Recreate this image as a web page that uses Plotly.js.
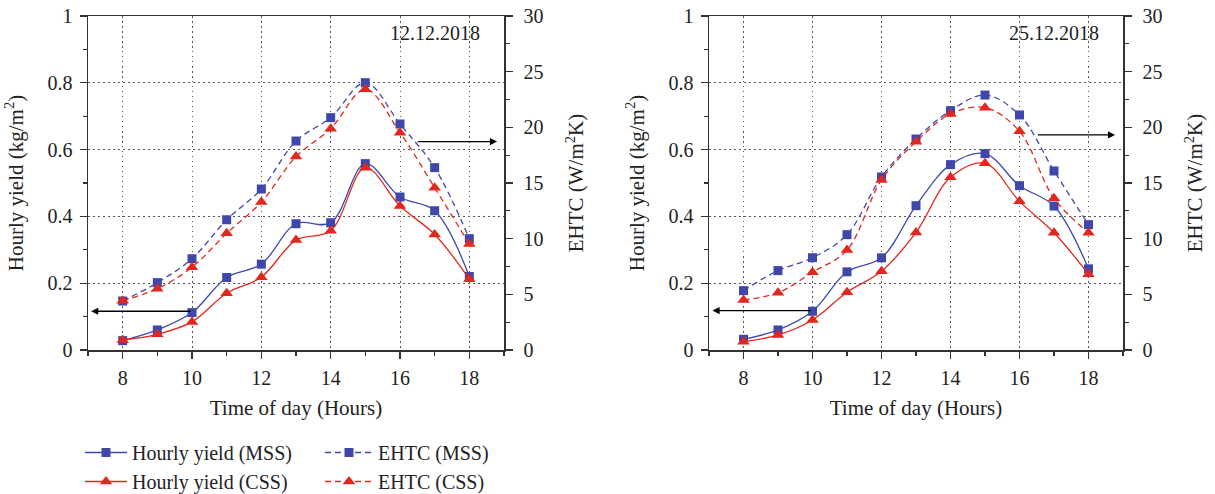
<!DOCTYPE html>
<html>
<head>
<meta charset="utf-8">
<script src="https://cdn.plot.ly/plotly-3.0.1.min.js"></script>
<style>html,body{margin:0;padding:0;background:#fff;overflow:hidden;}#chart{width:1215px;height:494px;}</style>
</head>
<body>
<div id="chart"></div>
<script>
// ---- data ----
const hours = [8, 9, 10, 11, 12, 13, 14, 15, 16, 17, 18];

// 12.12.2018
const yieldMSS_A = [0.028, 0.060, 0.112, 0.217, 0.257, 0.378, 0.381, 0.558, 0.458, 0.417, 0.220];
const yieldCSS_A = [0.030, 0.047, 0.084, 0.170, 0.218, 0.329, 0.357, 0.546, 0.431, 0.346, 0.212];
const ehtcMSS_A  = [4.40, 6.05, 8.20, 11.70, 14.46, 18.77, 20.87, 24.01, 20.30, 16.38, 10.00];
const ehtcCSS_A  = [4.43, 5.51, 7.43, 10.48, 13.29, 17.37, 19.88, 23.41, 19.52, 14.58, 9.52];

// 25.12.2018
const yieldMSS_B = [0.032, 0.060, 0.116, 0.234, 0.276, 0.432, 0.555, 0.588, 0.492, 0.431, 0.243];
const yieldCSS_B = [0.025, 0.045, 0.090, 0.173, 0.236, 0.352, 0.517, 0.559, 0.445, 0.351, 0.227];
const ehtcMSS_B  = [5.33, 7.13, 8.29, 10.36, 15.54, 18.95, 21.50, 22.90, 21.11, 16.08, 11.26];
const ehtcCSS_B  = [4.49, 5.15, 6.98, 8.98, 15.27, 18.71, 21.20, 21.77, 19.64, 13.62, 10.53];

const seriesNames = ["Hourly yield (MSS)", "Hourly yield (CSS)", "EHTC (MSS)", "EHTC (CSS)"];
const dateLabels = ["12.12.2018", "25.12.2018"];
const xTitle = "Time of day (Hours)";
const yLeftTitle = "Hourly yield (kg/m<sup>2</sup>)";
const yRightTitle = "EHTC (W/m<sup>2</sup>K)";

// arrows: [tailX, headX, y]
const arrowLeftA  = [10, 7.09, 0.116];
const arrowRightA = [16.47, 18.8, 0.624];
const arrowLeftB  = [10, 7.1, 0.118];
const arrowRightB = [16.49, 18.77, 0.644];

// ---- style ----
const BLUE = "#3f48aa";
const RED = "#e2271e";
const FONT = "Liberation Serif, Times New Roman, serif";
const FS = 20;
const TFS = 21;

function mk(x, y, name, color, sym, dashed, xa, ya, leg, show) {
  return {
    x: x, y: y, name: name, type: "scatter", mode: "lines+markers",
    xaxis: xa, yaxis: ya, legend: leg, showlegend: show,
    line: {color: color, width: 1.3, shape: "spline", smoothing: 1, dash: dashed ? "6px,4px" : "solid"},
    marker: {color: color, symbol: sym, size: sym === "square" ? 9 : 11}
  };
}

const traces = [
  mk(hours, yieldMSS_A, seriesNames[0], BLUE, "square", false, "x", "y", "legend", true),
  mk(hours, yieldCSS_A, seriesNames[1], RED, "triangle-up", false, "x", "y", "legend", true),
  mk(hours, ehtcMSS_A, seriesNames[2], BLUE, "square", true, "x", "y2", "legend2", true),
  mk(hours, ehtcCSS_A, seriesNames[3], RED, "triangle-up", true, "x", "y2", "legend2", true),
  mk(hours, yieldMSS_B, seriesNames[0], BLUE, "square", false, "x2", "y3", "legend", false),
  mk(hours, yieldCSS_B, seriesNames[1], RED, "triangle-up", false, "x2", "y3", "legend", false),
  mk(hours, ehtcMSS_B, seriesNames[2], BLUE, "square", true, "x2", "y4", "legend2", false),
  mk(hours, ehtcCSS_B, seriesNames[3], RED, "triangle-up", true, "x2", "y4", "legend2", false)
];

const W = 1215, H = 494;
const yDom = [1 - 350 / H, 1 - 16 / H];
const xDomA = [88 / W, 504 / W];
const xDomB = [709 / W, 1123 / W];
const AX = "#333";
const GRID = "#555";

function xAxis(dom, anchor) {
  return {
    domain: dom, anchor: anchor, range: [7, 19], tickvals: [8, 10, 12, 14, 16, 18],
    showline: true, mirror: true, linecolor: AX, linewidth: 1.5,
    ticks: "outside", ticklen: 7, tickwidth: 1.2, tickcolor: AX, ticklabelstandoff: 2,
    minor: {tickvals: [7, 9, 11, 13, 15, 17, 19], ticks: "outside", ticklen: 4, tickcolor: AX, showgrid: false},
    showgrid: true, gridcolor: GRID, gridwidth: 1, griddash: "1.5px,3.5px",
    zeroline: false, tickfont: {family: FONT, size: FS, color: "#222"},
    title: {text: xTitle, font: {family: FONT, size: TFS, color: "#222"}, standoff: 13}
  };
}
function yLeft(anchor) {
  return {
    domain: yDom, anchor: anchor, range: [0, 1], tickvals: [0, 0.2, 0.4, 0.6, 0.8, 1],
    ticktext: ["0", "0.2", "0.4", "0.6", "0.8", "1"],
    showline: true, mirror: true, linecolor: AX, linewidth: 1.5,
    ticks: "outside", ticklen: 7, tickwidth: 1.2, tickcolor: AX, ticklabelstandoff: 3,
    minor: {tickvals: [0.1, 0.3, 0.5, 0.7, 0.9], ticks: "outside", ticklen: 4, tickcolor: AX, showgrid: false},
    showgrid: true, gridcolor: GRID, gridwidth: 1, griddash: "1.5px,3.5px",
    zeroline: false, tickfont: {family: FONT, size: FS, color: "#222"},
    title: {text: yLeftTitle, font: {family: FONT, size: TFS, color: "#222"}, standoff: 18}
  };
}
function yRight(over, anchor) {
  return {
    overlaying: over, anchor: anchor, side: "right", range: [0, 30], tickvals: [0, 5, 10, 15, 20, 25, 30],
    showline: true, linecolor: AX, linewidth: 1.5,
    ticks: "outside", ticklen: 7, tickwidth: 1.2, tickcolor: AX, ticklabelstandoff: 7,
    minor: {tickvals: [2.5, 7.5, 12.5, 17.5, 22.5, 27.5], ticks: "outside", ticklen: 4, tickcolor: AX, showgrid: false},
    showgrid: false, zeroline: false, tickfont: {family: FONT, size: FS, color: "#222"},
    title: {text: yRightTitle, font: {family: FONT, size: TFS, color: "#222"}, standoff: 26}
  };
}

function arrow(a, xref, yref) {
  return {x: a[1], y: a[2], ax: a[0], ay: a[2], xref: xref, yref: yref, axref: xref, ayref: yref,
    showarrow: true, arrowhead: 2, arrowsize: 1.1, arrowwidth: 1.3, arrowcolor: "#000", text: ""};
}
function dateNote(t, xref, yref) {
  return {x: 17, y: 0.95, xref: xref, yref: yref, text: t, showarrow: false,
    font: {family: FONT, size: FS, color: "#222"}, xanchor: "center", yanchor: "middle"};
}

const layout = {
  width: W, height: H, margin: {l: 0, r: 0, t: 0, b: 0, autoexpand: false},
  paper_bgcolor: "#fff", plot_bgcolor: "#fff",
  font: {family: FONT, size: FS, color: "#222"},
  xaxis: xAxis(xDomA, "y"),
  yaxis: yLeft("x"),
  yaxis2: yRight("y", "x"),
  xaxis2: xAxis(xDomB, "y3"),
  yaxis3: yLeft("x2"),
  yaxis4: yRight("y3", "x2"),
  legend: {x: 80 / W, y: 1 - 433 / H, xanchor: "left", yanchor: "top", orientation: "v",
    font: {family: FONT, size: FS, color: "#222"}, bgcolor: "rgba(0,0,0,0)", tracegroupgap: 0, itemwidth: 42},
  legend2: {x: 320 / W, y: 1 - 433 / H, xanchor: "left", yanchor: "top", orientation: "v",
    font: {family: FONT, size: FS, color: "#222"}, bgcolor: "rgba(0,0,0,0)", tracegroupgap: 0, itemwidth: 48},
  annotations: [
    dateNote(dateLabels[0], "x", "y"),
    dateNote(dateLabels[1], "x2", "y3"),
    arrow(arrowLeftA, "x", "y"),
    arrow(arrowRightA, "x", "y"),
    arrow(arrowLeftB, "x2", "y3"),
    arrow(arrowRightB, "x2", "y3")
  ]
};

Plotly.newPlot("chart", traces, layout, {displayModeBar: false, staticPlot: true});
</script>
</body>
</html>
